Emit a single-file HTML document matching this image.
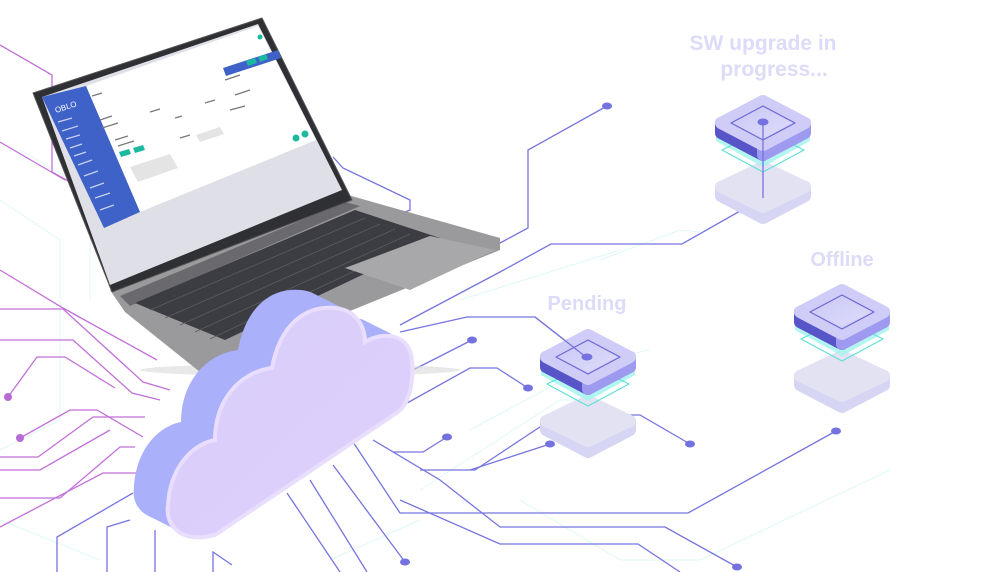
<!DOCTYPE html>
<html><head><meta charset="utf-8"><style>
html,body{margin:0;padding:0;background:#fff;width:1000px;height:572px;overflow:hidden}
svg{display:block}
.lbl{font-family:"Liberation Sans",sans-serif;font-weight:bold;fill:#dcdbf8}
</style></head><body>
<svg width="1000" height="572" viewBox="0 0 1000 572" xmlns="http://www.w3.org/2000/svg">
<defs>
<linearGradient id="top" x1="0" y1="0" x2="1" y2="1"><stop offset="0" stop-color="#c6c4f5"/><stop offset="1" stop-color="#e2e1fb"/></linearGradient>
<linearGradient id="cl" x1="0" y1="0" x2="1" y2="1"><stop offset="0" stop-color="#d8cdfb"/><stop offset="1" stop-color="#dfd0fb"/></linearGradient>
<g id="chip">
  <g stroke-linejoin="round">
  <polygon points="-42,92 0,114 42,92 42,101 0,123 -42,101" fill="#d6d5f3" stroke="#d6d5f3" stroke-width="12"/>
  <polygon points="0,72 -42,92 0,112 42,92" fill="#e3e2f3" stroke="#e3e2f3" stroke-width="12"/>
  <polygon points="-47,30 0,56 47,30 47,46 0,72 -47,46" fill="#a6f4ee" opacity="0.85"/>
  <polygon points="0,35 -41,55 0,77 41,55" fill="none" stroke="#5fe0d6" stroke-width="1.2" stroke-linejoin="round"/>
  <polygon points="-42,28 0,50 0,60 -42,38" fill="#5855c8" stroke="#5855c8" stroke-width="12"/>
  <polygon points="0,50 42,28 42,38 0,60" fill="#9d9af0" stroke="#9d9af0" stroke-width="12"/>
  <polygon points="0,6 -42,28 0,50 42,28" fill="url(#top)" stroke="#cfcdf7" stroke-width="12"/>
  <polygon points="0,11 -32,28 0,45 32,28" fill="none" stroke="#6b68d3" stroke-width="1.2" stroke-linejoin="round"/>
  </g>
</g>
<path id="cloudp" d="M205 537 C180 540 165 525 168 505 C170 470 190 445 215 440 C215 400 240 372 272 368 C280 325 305 305 335 308 C355 310 365 325 365 342 C385 330 410 335 412 360 C414 385 408 405 398 412 L215 535 Z"/>
</defs>

<g stroke="#dff7f6" stroke-width="1" fill="none">
<path d="M0 200 L60 240 L60 420 L0 450"/><path d="M20 150 L90 190 L90 300"/><path d="M600 260 L680 230 L700 232"/>
<path d="M470 430 L600 360 L650 350"/><path d="M520 500 L620 560 L700 560 L890 470"/><path d="M0 520 L100 560"/>
<path d="M420 490 L560 400 L600 400"/><path d="M330 560 L420 520"/><path d="M460 300 L620 250"/>
</g>

<g stroke="#c171d8" stroke-width="1.3" fill="none">
<path d="M0 45 L52 75 L52 172 L70 182"/>
<path d="M0 142 L65 180"/>
<path d="M0 270 L63 308 L157 360"/>
<path d="M0 309 L63 309 L143 382 L170 390"/>
<path d="M0 340 L73 340 L132 393 L160 400"/>
<path d="M8 397 L37 357 L65 357 L115 388"/>
<path d="M20 438 L70 410 L97 410 L143 437"/>
<path d="M0 457 L38 457 L93 417 L145 417"/>
<path d="M0 470 L40 470 L110 430"/>
<path d="M0 498 L60 498 L120 447 L135 447"/>
<path d="M0 527 L103 473 L150 473"/>
</g>
<g fill="#b56bd2"><circle cx="8" cy="397" r="4"/><circle cx="20" cy="438" r="4"/></g>

<g stroke="#7674df" stroke-width="1.3" fill="none">
<path d="M607 106 L528 150 L528 228 L500 243 L420 283"/>
<path d="M763 122 L763 198 L682 244 L551 244 L500 272 L400 325"/>
<path d="M333 157 L343 168 L410 200 L410 210 L360 230"/>
<path d="M400 332 L467 317 L535 317 L586 357"/>
<path d="M413 370 L472 340"/>
<path d="M400 407 L470 368 L497 368 L528 388"/>
<path d="M393 452 L423 452 L447 437"/>
<path d="M420 470 L475 470 L558 415 L640 415 L690 444"/>
<path d="M470 470 L550 444"/>
<path d="M836 431 L688 513 L400 513 L353 442"/>
<path d="M373 440 L440 480 L500 527 L665 527 L737 567"/>
<path d="M333 465 L405 562"/>
<path d="M310 480 L367 572"/>
<path d="M287 493 L340 572"/>
<path d="M400 500 L500 544 L638 544 L680 572"/>
<path d="M57 572 L57 537 L133 493"/>
<path d="M107 572 L107 527 L130 520"/>
<path d="M155 572 L155 530"/>
<path d="M213 572 L213 552 L232 565"/>
</g>
<g fill="#7472df">
<ellipse cx="607" cy="106" rx="5" ry="3.5"/><ellipse cx="528" cy="388" rx="5" ry="3.5"/>
<ellipse cx="472" cy="340" rx="5" ry="3.5"/><ellipse cx="447" cy="437" rx="5" ry="3.5"/>
<ellipse cx="550" cy="444" rx="5" ry="3.5"/><ellipse cx="690" cy="444" rx="5" ry="3.5"/>
<ellipse cx="836" cy="431" rx="5" ry="3.5"/><ellipse cx="405" cy="562" rx="5" ry="3.5"/>
<ellipse cx="737" cy="567" rx="5" ry="3.5"/>
</g>

<use href="#chip" transform="translate(763,95)"/>
<use href="#chip" transform="translate(588,329)"/>
<use href="#chip" transform="translate(842,284)"/>
<line x1="763" y1="122" x2="763" y2="198" stroke="#7674df" stroke-width="1.3"/>
<line x1="535" y1="317" x2="586" y2="357" stroke="#7674df" stroke-width="1.3"/>
<g fill="#7472df"><ellipse cx="763" cy="122" rx="5.5" ry="3.5"/><ellipse cx="587" cy="357" rx="5.5" ry="3.5"/></g>

<text class="lbl" x="763" y="50" font-size="21" text-anchor="middle">SW upgrade in</text>
<text class="lbl" x="774" y="76" font-size="21" text-anchor="middle">progress...</text>
<text class="lbl" x="842" y="266" font-size="20" text-anchor="middle">Offline</text>
<text class="lbl" x="587" y="310" font-size="20" text-anchor="middle">Pending</text>

<ellipse cx="300" cy="370" rx="160" ry="6" fill="#d8d8d8" opacity="0.6"/>
<polygon points="110,290 348,195 500,238 500,250 200,372 125,312" fill="#9a9a9c"/>
<polygon points="120,296 345,202 360,206 130,306" fill="#6a6a6e"/>
<polygon points="135,303 355,210 440,238 225,340" fill="#3c3d42"/>
<g stroke="#5c5d63" stroke-width="0.8">
<path d="M150 310 L365 218"/><path d="M165 318 L380 224"/><path d="M180 325 L395 229"/><path d="M195 332 L410 234"/><path d="M210 339 L425 238"/>
</g>
<polygon points="345,268 430,236 495,250 410,290" fill="#a8a8aa"/>
<polygon points="33,93 262,18 352,200 112,292" fill="#2f3034" stroke="#555" stroke-width="1" stroke-linejoin="round"/>
<polygon points="42,97 258,24 342,190 110,285" fill="#dfe0e7"/>
<polygon points="86,86 258,26 316,140 140,212" fill="#fff"/>
<polygon points="42,97 86,86 140,212 104,228" fill="#3e62c8"/>
<text x="56" y="113" font-family="Liberation Sans,sans-serif" font-size="8" fill="#fff" transform="rotate(-18 56 113)">OBLO</text>
<g stroke="#c8d2f0" stroke-width="1.2">
<path d="M58 122 L72 118"/><path d="M62 131 L78 126"/><path d="M66 139 L80 135"/><path d="M70 148 L82 144"/><path d="M74 156 L86 152"/><path d="M78 165 L92 160"/><path d="M84 176 L98 171"/><path d="M90 188 L104 183"/><path d="M95 198 L110 193"/><path d="M100 210 L114 205"/>
</g>
<g stroke="#777" stroke-width="1.2">
<path d="M92 96 L102 93"/><path d="M100 120 L112 116"/><path d="M102 128 L118 123"/><path d="M150 112 L160 109"/><path d="M175 118 L182 116"/><path d="M205 103 L215 100"/><path d="M115 140 L128 136"/><path d="M118 146 L134 141"/><path d="M180 138 L190 135"/><path d="M230 110 L245 106"/><path d="M225 80 L240 75"/><path d="M235 95 L250 90"/>
</g>
<polygon points="130,167 170,154 178,168 138,182" fill="#e4e4e4"/>
<polygon points="196,135 220,127 224,134 200,142" fill="#e4e4e4"/>
<polygon points="223,68 278,50 281,58 226,76" fill="#3e62c8"/>
<g fill="#1cb8a0">
<polygon points="119,152 129,149 131,154 121,157"/><polygon points="133,148 143,145 145,150 135,153"/>
<polygon points="246,61 255,58 257,63 248,66"/><polygon points="258,57 266,54 268,59 260,62"/>
<circle cx="296" cy="138" r="3.5"/><circle cx="305" cy="134" r="3.5"/><circle cx="260" cy="37" r="2.5"/>
</g>

<g fill="#aab0fa">
<use href="#cloudp" transform="translate(-34,-18)"/><use href="#cloudp" transform="translate(-30,-16)"/><use href="#cloudp" transform="translate(-26,-14)"/>
<use href="#cloudp" transform="translate(-22,-12)"/><use href="#cloudp" transform="translate(-18,-10)"/><use href="#cloudp" transform="translate(-14,-8)"/>
<use href="#cloudp" transform="translate(-10,-6)"/><use href="#cloudp" transform="translate(-6,-3)"/><use href="#cloudp" transform="translate(-3,-1)"/>
</g>
<use href="#cloudp" fill="url(#cl)" stroke="#e9defd" stroke-width="4"/>
</svg>
</body></html>
